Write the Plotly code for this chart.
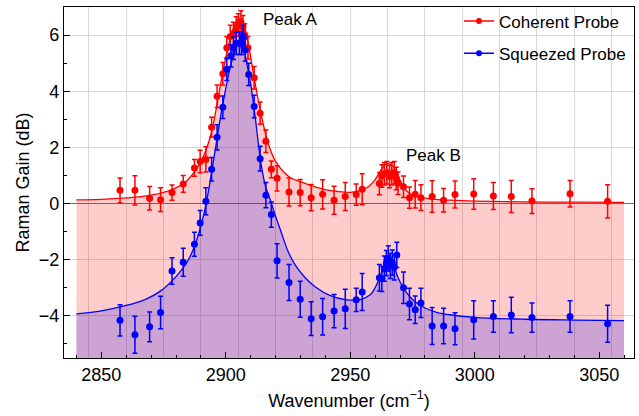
import plotly.graph_objects as go

# ---------------- data ----------------
coh_x = [2857.5, 2863.5, 2869.4, 2873.8, 2878.4, 2882.9, 2887.4, 2889.7, 2892.0, 2894.3,
         2896.5, 2898.8, 2900.4, 2901.8, 2903.1, 2904.2, 2905.1, 2906.1, 2906.9, 2907.6,
         2908.9, 2911.4, 2913.8, 2916.1, 2918.3, 2920.6, 2925.4, 2929.9, 2934.3, 2938.9,
         2943.5, 2948.0, 2952.4, 2954.8, 2961.7, 2962.7, 2963.7, 2964.7, 2965.8, 2966.7,
         2967.7, 2968.5, 2969.2, 2971.4, 2973.8, 2976.1, 2978.4, 2982.9, 2987.5, 2992.1,
         2999.6, 3007.5, 3014.7, 3023.0, 3038.3, 3053.4]
coh_y = [0.47, 0.47, 0.19, 0.14, 0.39, 0.70, 1.27, 1.50, 1.57, 2.72,
         3.82, 4.62, 5.55, 5.95, 6.06, 6.20, 6.36, 6.47, 6.30, 6.00,
         5.55, 4.48, 3.22, 2.22, 1.22, 0.90, 0.41, 0.39, 0.21, 0.33,
         0.12, 0.25, 0.32, 0.51, 0.71, 0.98, 1.06, 1.10, 0.96, 1.06,
         1.10, 0.89, 0.72, 0.60, 0.21, 0.33, 0.21, 0.25, 0.12, 0.32,
         0.34, 0.27, 0.25, 0.09, 0.35, 0.08]
coh_err = [0.44, 0.52, 0.42, 0.42, 0.27, 0.30, 0.30, 0.40, 0.45, 0.35,
           0.40, 0.40, 0.40, 0.40, 0.40, 0.45, 0.40, 0.40, 0.40, 0.40,
           0.40, 0.40, 0.40, 0.40, 0.30, 0.45, 0.50, 0.47, 0.47, 0.52,
           0.50, 0.50, 0.38, 0.55, 0.40, 0.40, 0.40, 0.40, 0.40, 0.40,
           0.40, 0.40, 0.40, 0.38, 0.38, 0.49, 0.46, 0.56, 0.42, 0.48,
           0.54, 0.48, 0.57, 0.44, 0.47, 0.59]

sq_x = [2857.5, 2863.5, 2869.4, 2873.8, 2878.4, 2882.9, 2887.4, 2889.7, 2892.0, 2894.3,
        2896.5, 2898.8, 2900.4, 2902.1, 2903.1, 2904.2, 2905.5, 2906.4, 2906.9, 2907.8,
        2909.2, 2911.4, 2913.8, 2916.1, 2918.3, 2920.6, 2925.4, 2929.9, 2934.3, 2938.9,
        2943.5, 2948.0, 2952.4, 2954.8, 2961.7, 2962.7, 2963.7, 2964.5, 2965.3, 2966.1,
        2966.9, 2967.7, 2968.7, 2971.4, 2973.8, 2976.1, 2978.4, 2982.9, 2987.5, 2992.1,
        2999.6, 3007.5, 3014.7, 3023.0, 3038.3, 3053.4]
sq_y = [-4.16, -4.67, -4.39, -3.88, -2.40, -2.09, -1.45, -0.69, 0.08, 1.22,
        2.36, 3.43, 4.78, 5.26, 5.53, 5.71, 5.71, 5.71, 5.95, 5.47,
        4.60, 3.46, 1.60, 0.30, -0.39, -2.04, -2.81, -3.41, -4.10, -4.03,
        -3.83, -3.75, -3.43, -3.15, -2.64, -2.68, -2.32, -2.12, -1.95, -2.22,
        -2.10, -2.27, -1.83, -3.00, -3.58, -3.78, -3.54, -4.36, -4.36, -4.46,
        -4.14, -4.02, -3.97, -4.06, -4.02, -4.28]
sq_err = [0.56, 0.66, 0.53, 0.58, 0.47, 0.50, 0.43, 0.44, 0.48, 0.42,
          0.45, 0.40, 0.40, 0.40, 0.40, 0.40, 0.40, 0.40, 0.40, 0.40,
          0.40, 0.40, 0.44, 0.45, 0.45, 0.61, 0.64, 0.64, 0.60, 0.65,
          0.59, 0.70, 0.41, 0.66, 0.47, 0.45, 0.45, 0.45, 0.45, 0.45,
          0.45, 0.45, 0.45, 0.56, 0.56, 0.49, 0.52, 0.66, 0.63, 0.57,
          0.68, 0.56, 0.63, 0.52, 0.56, 0.66]

# fitted curves
coh_fit_x = [2840, 2850, 2860, 2868, 2875, 2880, 2884, 2887, 2890, 2892, 2894, 2896, 2898,
             2900, 2902, 2904, 2905.5, 2907, 2909, 2911, 2913, 2915, 2917, 2920, 2923, 2926,
             2930, 2935, 2940, 2945, 2950, 2954, 2957, 2960, 2962, 2964, 2965.5, 2967, 2969,
             2971, 2973, 2976, 2980, 2985, 2990, 3000, 3020, 3040, 3060]
coh_fit_y = [0.13, 0.15, 0.20, 0.27, 0.40, 0.56, 0.78, 1.08, 1.50, 1.90, 2.45, 3.30, 4.30,
             5.20, 5.95, 6.45, 6.60, 6.45, 5.70, 4.70, 3.70, 2.85, 2.15, 1.50, 1.15, 0.92,
             0.78, 0.62, 0.50, 0.43, 0.40, 0.46, 0.58, 0.85, 1.15, 1.38, 1.42, 1.35, 1.05,
             0.65, 0.42, 0.28, 0.19, 0.14, 0.12, 0.09, 0.06, 0.05, 0.04]

sq_fit_x = [2840, 2850, 2860, 2868, 2874, 2880, 2884, 2887, 2890, 2892, 2894, 2896, 2898,
            2900, 2902, 2904, 2906, 2907, 2908, 2910, 2912, 2914, 2916, 2918, 2920, 2922,
            2925, 2928, 2932, 2936, 2942, 2948, 2954, 2958, 2960, 2962, 2964, 2965.5, 2967,
            2969, 2972, 2976, 2980, 2985, 2990, 3000, 3020, 3040, 3060]
sq_fit_y = [-3.93, -3.82, -3.63, -3.40, -3.10, -2.60, -2.15, -1.62, -0.80, -0.05, 0.95, 2.05,
            3.15, 4.10, 4.95, 5.50, 5.85, 5.70, 5.20, 4.25, 2.95, 1.50, 0.60, 0.10, -0.45,
            -0.95, -1.70, -2.20, -2.65, -2.97, -3.28, -3.42, -3.42, -3.25, -3.00, -2.60,
            -2.10, -1.85, -2.05, -2.60, -3.10, -3.50, -3.72, -3.88, -3.96, -4.05, -4.12,
            -4.15, -4.17]

fill_floor = [-5.5, -5.5]
fill_span = [2840, 3060]

x_range = [2835, 3064]
y_range = [-5.5, 7.0]

RED = "#ff0000"
BLUE = "#0000ff"
FONT = "Liberation Sans, Arial, sans-serif"

fig = go.Figure()

# red fill region (curve down to the floor)
fig.add_trace(go.Scatter(x=fill_span, y=fill_floor, mode="lines", line=dict(width=0),
                         showlegend=False, hoverinfo="skip"))
fig.add_trace(go.Scatter(x=coh_fit_x, y=coh_fit_y, mode="lines", line=dict(color=RED, width=1.3),
                         line_shape="spline", fill="tonexty", fillcolor="rgba(255,0,0,0.2)",
                         showlegend=False))
# blue fill region
fig.add_trace(go.Scatter(x=fill_span, y=fill_floor, mode="lines", line=dict(width=0),
                         showlegend=False, hoverinfo="skip"))
fig.add_trace(go.Scatter(x=sq_fit_x, y=sq_fit_y, mode="lines", line=dict(color=BLUE, width=1.3),
                         line_shape="spline", fill="tonexty", fillcolor="rgba(0,0,240,0.2)",
                         showlegend=False))

# data with error bars
fig.add_trace(go.Scatter(x=coh_x, y=coh_y, mode="markers",
                         marker=dict(color=RED, size=7),
                         error_y=dict(type="data", array=coh_err, color=RED, thickness=1.5, width=2.5),
                         showlegend=False))
fig.add_trace(go.Scatter(x=sq_x, y=sq_y, mode="markers",
                         marker=dict(color=BLUE, size=7),
                         error_y=dict(type="data", array=sq_err, color=BLUE, thickness=1.5, width=2.5),
                         showlegend=False))

# legend entries
fig.add_trace(go.Scatter(x=[None], y=[None], mode="lines+markers", name="Coherent Probe",
                         line=dict(color=RED, width=1.5), marker=dict(color=RED, size=6),
                         legendgroup="a"))
fig.add_trace(go.Scatter(x=[None], y=[None], mode="lines+markers", name="Squeezed Probe",
                         line=dict(color=BLUE, width=1.5), marker=dict(color=BLUE, size=6),
                         legendgroup="b"))

# invisible trace for secondary grid axis
fig.add_trace(go.Scatter(x=x_range, y=[None, None], xaxis="x2", showlegend=False, hoverinfo="skip"))

fig.add_annotation(x=2914, y=6.55, text="Peak A", showarrow=False, xanchor="left",
                   yanchor="middle", font=dict(size=17, color="black", family=FONT))
fig.add_annotation(x=2971.5, y=1.7, text="Peak B", showarrow=False, xanchor="left",
                   yanchor="middle", font=dict(size=17, color="black", family=FONT))

fig.update_layout(
    width=639, height=416,
    margin=dict(l=64, r=5, t=7, b=58, autoexpand=False),
    plot_bgcolor="white", paper_bgcolor="white",
    font=dict(family=FONT, size=18, color="black"),
    showlegend=True,
    legend=dict(x=0.693, y=1.01, xanchor="left", yanchor="top", bgcolor="rgba(0,0,0,0)",
                font=dict(size=17), tracegroupgap=7, traceorder="grouped",
                itemwidth=30),
    xaxis=dict(range=x_range, showgrid=False, zeroline=False, showline=True, linecolor="black",
               linewidth=1.2, mirror=True, ticks="inside", ticklen=6, tickcolor="black",
               tick0=2850, dtick=50, tickfont=dict(size=18), automargin=False,
               minor=dict(ticks="inside", ticklen=3, dtick=10, tick0=2850, tickcolor="black",
                          showgrid=False),
               title=dict(text="Wavenumber (cm<sup>−1</sup>)", font=dict(size=18), standoff=10)),
    xaxis2=dict(range=x_range, overlaying="x", showgrid=True, gridcolor="#d8d8d8", gridwidth=1,
                tick0=2845, dtick=15, showticklabels=False, ticks="", zeroline=False,
                showline=False, side="bottom", automargin=False),
    yaxis=dict(range=y_range, showgrid=True, gridcolor="#d8d8d8", gridwidth=1,
               zeroline=True, zerolinecolor="#707070", zerolinewidth=1.2,
               showline=True, linecolor="black", linewidth=1.2, mirror=True,
               ticks="inside", ticklen=6, tickcolor="black", tick0=0, dtick=2,
               tickfont=dict(size=18), automargin=False,
               minor=dict(ticks="inside", ticklen=3, dtick=1, tick0=0, tickcolor="black",
                          showgrid=False),
               title=dict(text="Raman Gain (dB)", font=dict(size=18), standoff=4)),
)

fig.write_html("out.html", config={"displayModeBar": False},
               post_script="document.body.style.margin='0px';document.body.style.overflow='hidden';")
